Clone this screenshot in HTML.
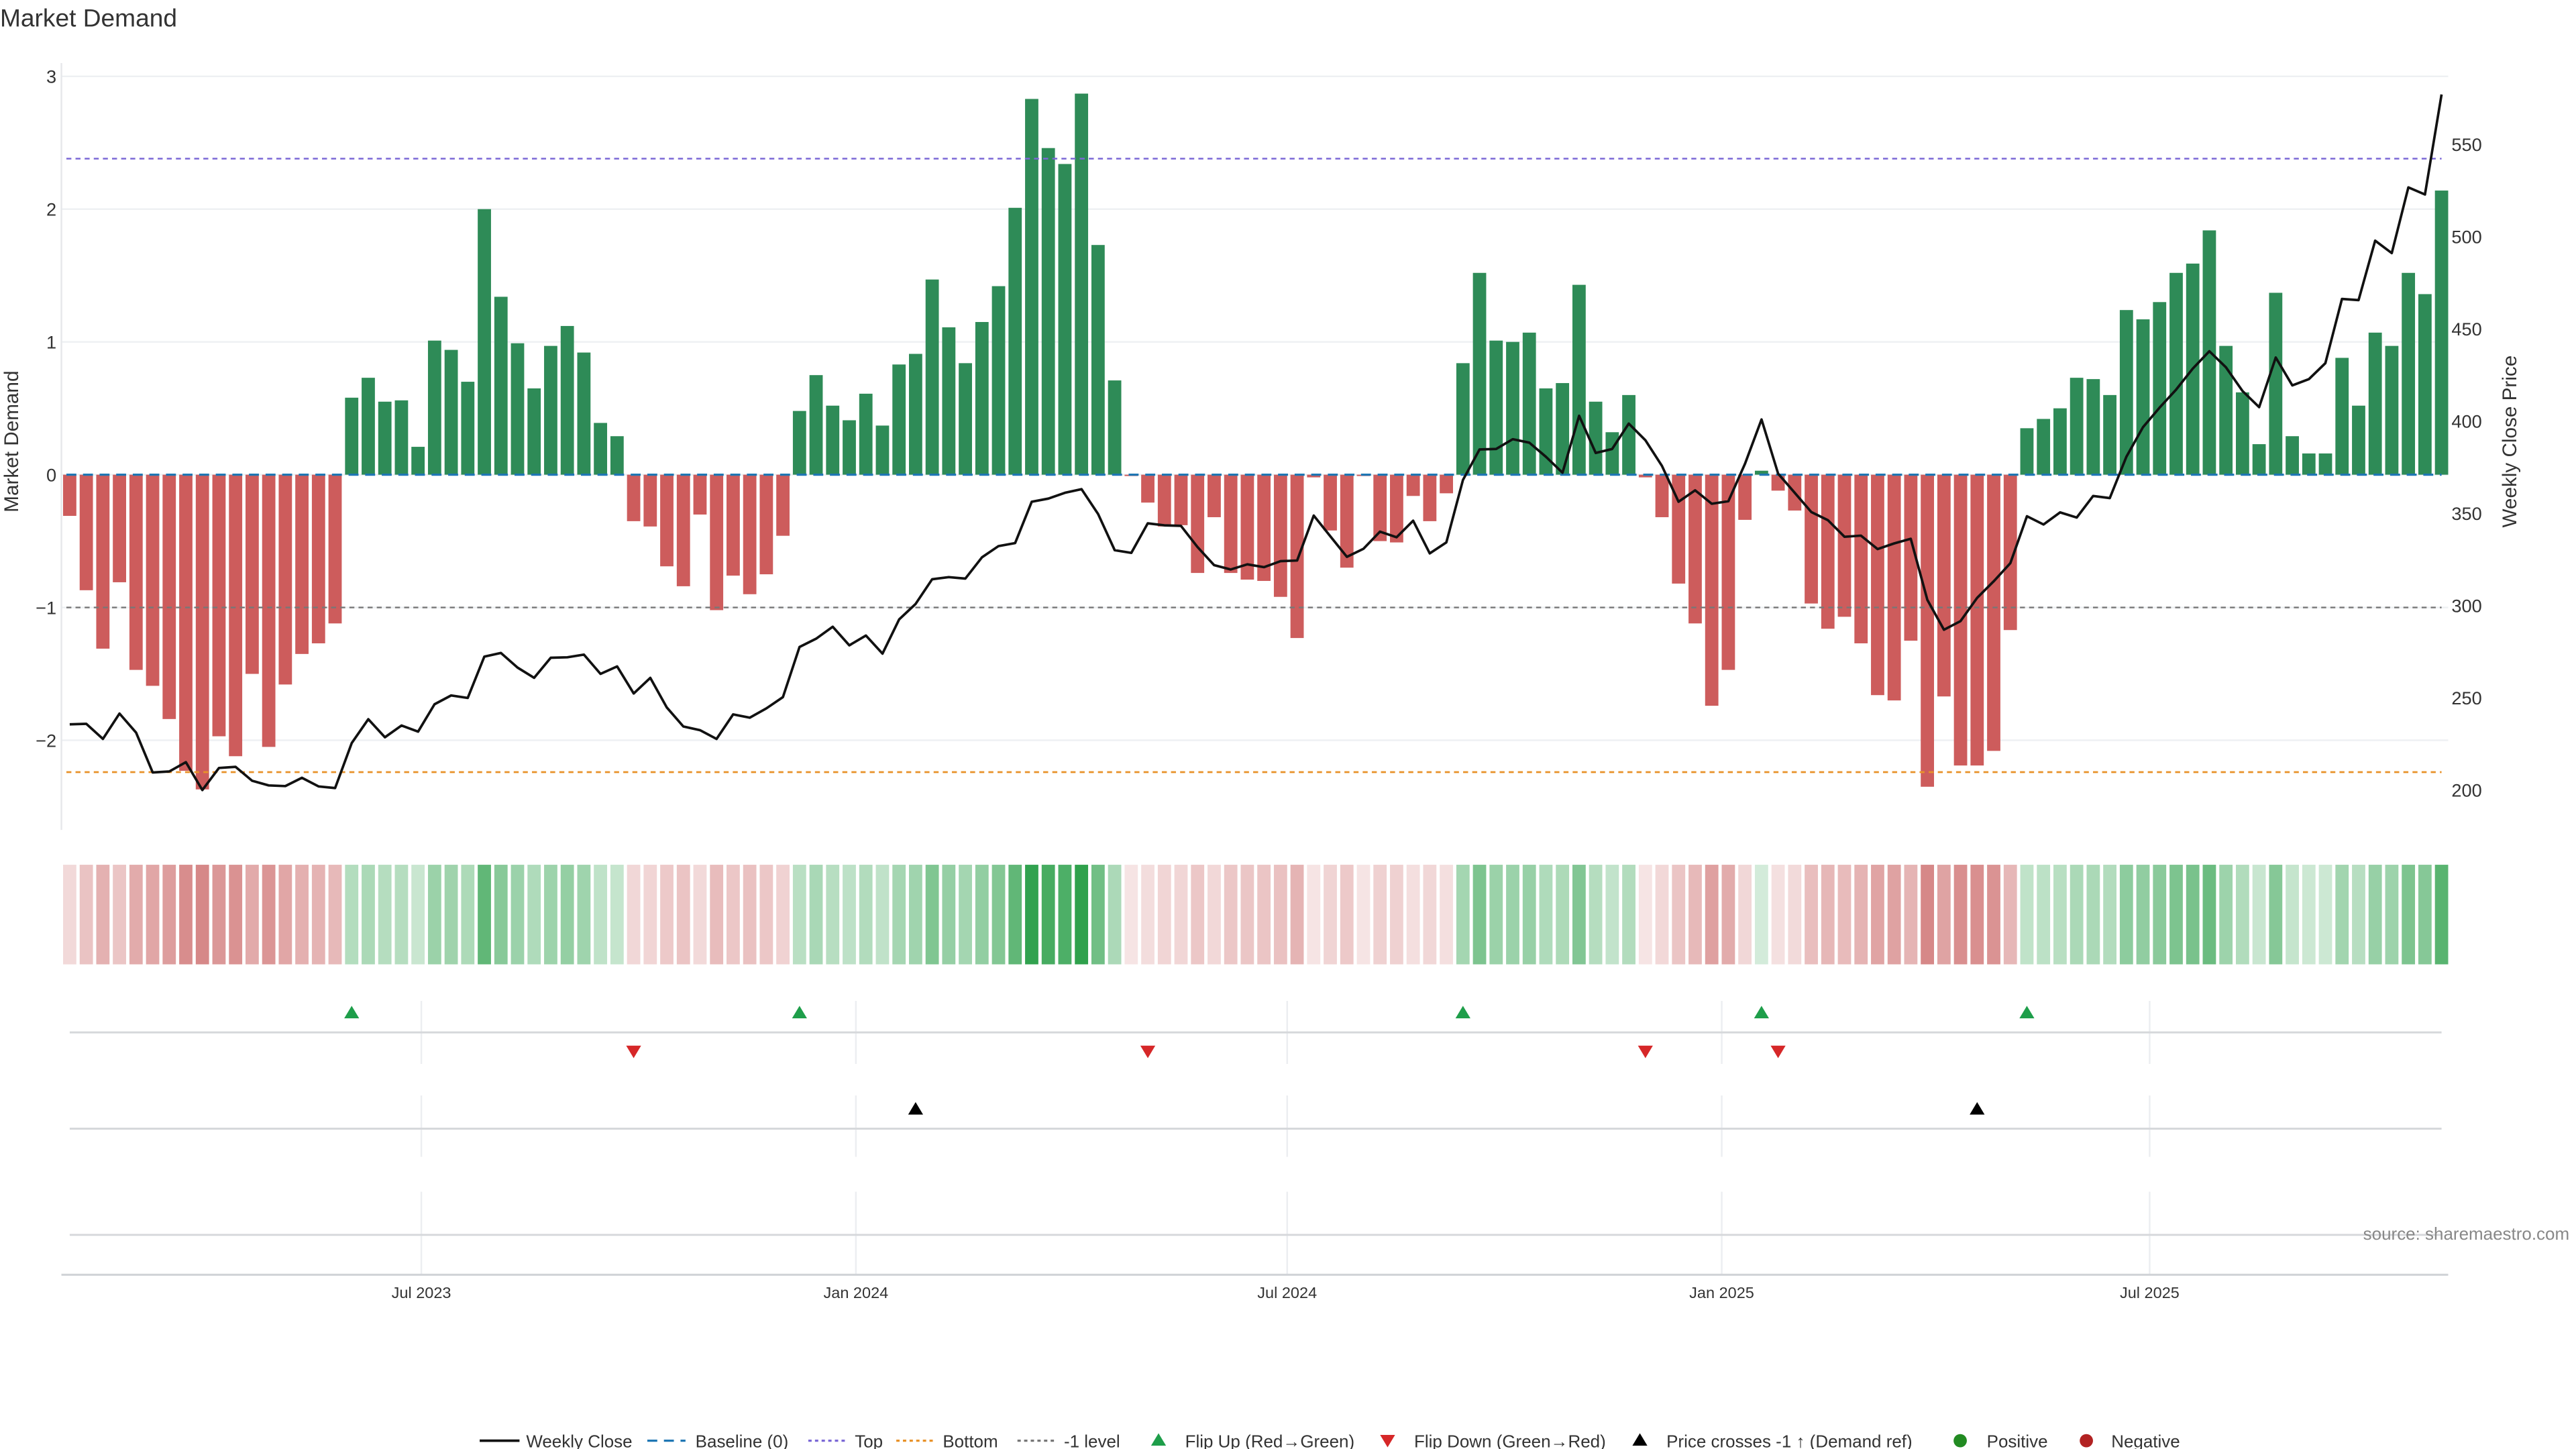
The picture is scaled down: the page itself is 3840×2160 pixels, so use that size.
<!DOCTYPE html>
<html><head><meta charset="utf-8"><title>Market Demand</title>
<style>
html,body{margin:0;padding:0;background:#fff;}
svg{display:block;font-family:"Liberation Sans","DejaVu Sans",sans-serif;}
</style></head>
<body>
<svg id="chart" width="3840" height="2160" viewBox="0 0 1552 873" xmlns="http://www.w3.org/2000/svg">
<rect width="1552" height="873" fill="#fff"/>
<text x="0" y="16" font-size="15" fill="#333">Market Demand</text>
<g id="grid"></g>
<g id="bars"></g>
<g id="refs"></g>
<g id="price"></g>
<g id="heat"></g>
<g id="signals"></g>
<g id="axes"></g>
<g id="legend"></g>
</svg>
<script>
const demand = [-0.31,-0.87,-1.31,-0.81,-1.47,-1.59,-1.84,-2.23,-2.37,-1.97,-2.12,-1.50,-2.05,-1.58,-1.35,-1.27,-1.12,
0.58,0.73,0.55,0.56,0.21,1.01,0.94,0.70,2.00,1.34,0.99,0.65,0.97,1.12,0.92,0.39,0.29,
-0.35,-0.39,-0.69,-0.84,-0.30,-1.02,-0.76,-0.90,-0.75,-0.46,
0.48,0.75,0.52,0.41,0.61,0.37,0.83,0.91,1.47,1.11,0.84,1.15,1.42,2.01,2.83,2.46,2.34,2.87,1.73,0.71,
-0.01,-0.21,-0.39,-0.38,-0.74,-0.32,-0.74,-0.79,-0.80,-0.92,-1.23,-0.02,-0.42,-0.70,-0.01,-0.50,-0.51,-0.16,-0.35,-0.14,
0.84,1.52,1.01,1.00,1.07,0.65,0.69,1.43,0.55,0.32,0.60,
-0.02,-0.32,-0.82,-1.12,-1.74,-1.47,-0.34,0.03,-0.12,-0.27,-0.97,-1.16,-1.07,-1.27,-1.66,-1.70,-1.25,-2.35,-1.67,-2.19,-2.19,-2.08,-1.17,
0.35,0.42,0.50,0.73,0.72,0.60,1.24,1.17,1.30,1.52,1.59,1.84,0.97,0.62,0.23,1.37,0.29,0.16,0.16,0.88,0.52,1.07,0.97,1.52,1.36,2.14];
const closePrice = [235.6,235.9,227.7,241.5,231.1,209.5,210.1,215.1,200.0,212.0,212.6,205.0,202.5,202.2,206.7,202.0,201.1,
225.5,238.4,228.6,235.0,231.7,246.5,251.3,249.9,272.3,274.3,266.4,260.8,271.7,272.0,273.4,263.0,267.0,252.4,260.8,244.8,234.5,232.5,227.7,
241.0,239.2,244.3,250.4,277.6,282.1,288.5,278.5,283.8,274.0,292.5,300.9,314.3,315.4,314.6,326.1,332.3,333.9,356.3,358.0,361.1,363.1,349.6,330.0,328.6,
344.6,343.5,343.2,331.7,321.9,319.6,322.4,320.8,324.1,324.4,348.8,337.6,326.4,330.8,340.1,337.0,346.0,328.3,334.2,
368.1,384.6,384.9,390.2,388.3,380.7,372.0,402.9,382.7,384.9,398.7,389.7,375.7,356.3,362.5,355.2,356.6,376.8,400.9,371.5,361.1,350.7,346.3,337.3,337.9,330.6,333.7,336.2,303.1,286.9,291.6,304.2,313.2,323.0,
348.5,344.0,350.5,347.7,359.4,358.3,380.7,396.7,407.3,417.1,428.4,437.9,429.2,416.3,407.6,434.5,419.4,422.8,431.4,466.2,465.6,497.8,491.1,526.7,522.8,577.1];
const leftTicks = [3,2,1,0,-1,-2];
const rightTicks = [550,500,450,400,350,300,250,200];
const dateLabels = ["Jul 2023","Jan 2024","Jul 2024","Jan 2025","Jul 2025"];
const dateIndex = [21.2,47.4,73.4,99.6,125.4];
const flipUp = [17,44,84,102,118];
const flipDown = [34,65,95,103];
const priceCross = [51,115];
const levelTop = 2.38, levelBottom = -2.24, levelMinus1 = -1;

const NS="http://www.w3.org/2000/svg";
function mk(tag, attrs, parent, text){const e=document.createElementNS(NS,tag);for(const k in attrs)e.setAttribute(k,attrs[k]);if(text!==undefined)e.textContent=text;parent.appendChild(e);return e;}
const X0=37,X1=1475;
const xOf=i=>42+i*(1471-42)/(demand.length-1);
const yL=v=>286-v*80;
const yR=p=>476-(p-200)*389/350;
const g=id=>document.getElementById(id);

// grid
leftTicks.forEach(t=>{const l=mk('line',{x1:X0,x2:X1,y1:yL(t),y2:yL(t),stroke:'#eef0f3','stroke-width':1},g('grid'));

});
// bars
demand.forEach((v,i)=>{const y=Math.min(yL(v),286),h=Math.abs(yL(v)-286);
const r=mk('rect',{x:xOf(i)-4,y:y,width:8,height:Math.max(h,0.3),fill:v>=0?'#2e8b57':'#cd5c5c'},g('bars'));

});
// reference lines
[[0,'#1f77b4','6 4',1.3,'baseline-line'],[levelTop,'#7b68d6','3 2.5',1,'top-line'],[levelMinus1,'#777','3 2.5',1,'minus1-line'],[levelBottom,'#e8922a','3 2.5',1.1,'bottom-line']].forEach(a=>{
const l=mk('line',{x1:40,x2:1471,y1:yL(a[0]),y2:yL(a[0]),stroke:a[1],'stroke-dasharray':a[2],'stroke-width':a[3]},g('refs'));

});
// price line
const pl=mk('polyline',{points:closePrice.map((p,i)=>xOf(i).toFixed(1)+','+yR(p).toFixed(1)).join(' '),fill:'none',stroke:'#111','stroke-width':1.5,'stroke-linejoin':'round'},g('price'));


// heat strip
demand.forEach((v,i)=>{const a=Math.min(Math.abs(v)/2.9,1);
const col=v>=0?`rgba(45,160,75,${0.2+0.8*a})`:`rgba(195,80,80,${0.15+0.65*a})`;
const r=mk('rect',{x:xOf(i)-4,y:521,width:8,height:60,fill:col},g('heat'));

});
// signal panels
const sg=g('signals');
dateIndex.forEach(d=>{const x=xOf(d);[[603,641],[660,697],[718,768]].forEach(s=>{
const l=mk('line',{x1:x,x2:x,y1:s[0],y2:s[1],stroke:'#eceef1','stroke-width':1},sg);

});});
[622,680,744].forEach(y=>{const l=mk('line',{x1:42,x2:1471,y1:y,y2:y,stroke:'#d6d8db','stroke-width':1.2},sg);

});
flipUp.forEach(i=>{const x=xOf(i);const p=mk('polygon',{points:`${x-4.5},613.5 ${x+4.5},613.5 ${x},606`,fill:'#1e9e4a'},sg);

});
flipDown.forEach(i=>{const x=xOf(i);const p=mk('polygon',{points:`${x-4.5},630 ${x+4.5},630 ${x},637.5`,fill:'#d62728'},sg);

});
priceCross.forEach(i=>{const x=xOf(i);const p=mk('polygon',{points:`${x-4.5},671.5 ${x+4.5},671.5 ${x},664`,fill:'#000'},sg);

});
// axes
const ax=g('axes');
let l=mk('line',{x1:X0,x2:X0,y1:38,y2:500,stroke:'#e6e8eb'},ax);


l=mk('line',{x1:X0,x2:X1,y1:768,y2:768,stroke:'#cfd2d6','stroke-width':1.2},ax);


leftTicks.forEach(t=>{const e=mk('text',{x:34,y:yL(t)+4,'font-size':11,fill:'#333','text-anchor':'end'},ax,t<0?'−'+Math.abs(t):String(t));

});
rightTicks.forEach(t=>{const e=mk('text',{x:1477,y:yR(t)+4,'font-size':11,fill:'#333'},ax,String(t));

});
let e=mk('text',{x:0,y:0,'font-size':12,fill:'#333','text-anchor':'middle',transform:'translate(11,266) rotate(-90)'},ax,'Market Demand');


e=mk('text',{x:0,y:0,'font-size':12,fill:'#333','text-anchor':'middle',transform:'translate(1516,266) rotate(-90)'},ax,'Weekly Close Price');


dateLabels.forEach((d,k)=>{const t=mk('text',{x:xOf(dateIndex[k]),y:782,'font-size':9.5,fill:'#333','text-anchor':'middle'},ax,d);

});
e=mk('text',{x:1548,y:747,'font-size':10.5,fill:'#888','text-anchor':'end'},ax,'source: sharemaestro.com');


// legend
const lg=g('legend');const LY=868;
function lt(x,s){const t=mk('text',{x:x,y:LY+4,'font-size':10.5,fill:'#333'},lg,s);return t;}
let it;
it=mk('line',{x1:289,x2:313,y1:LY,y2:LY,stroke:'#111','stroke-width':1.5},lg);


it=lt(317,'Weekly Close');


it=mk('line',{x1:390,x2:413,y1:LY,y2:LY,stroke:'#1f77b4','stroke-dasharray':'6 4','stroke-width':1.3},lg);


it=lt(419,'Baseline (0)');


it=mk('line',{x1:487,x2:510,y1:LY,y2:LY,stroke:'#7b68d6','stroke-dasharray':'2 2','stroke-width':1.3},lg);


it=lt(515,'Top');


it=mk('line',{x1:540,x2:563,y1:LY,y2:LY,stroke:'#e8922a','stroke-dasharray':'2 2','stroke-width':1.3},lg);


it=lt(568,'Bottom');


it=mk('line',{x1:613,x2:636,y1:LY,y2:LY,stroke:'#777','stroke-dasharray':'2 2','stroke-width':1.3},lg);


it=lt(641,'-1 level');


it=mk('polygon',{points:'693.5,871 702.5,871 698,863.5',fill:'#1e9e4a'},lg);


it=lt(714,'Flip Up (Red→Green)');


it=mk('polygon',{points:'831.5,864.5 840.5,864.5 836,872',fill:'#d62728'},lg);


it=lt(852,'Flip Down (Green→Red)');


it=mk('polygon',{points:'983.5,871 992.5,871 988,863.5',fill:'#000'},lg);


it=lt(1004,'Price crosses -1 ↑ (Demand ref)');


it=mk('circle',{cx:1181,cy:LY,r:4,fill:'#228b22'},lg);


it=lt(1197,'Positive');


it=mk('circle',{cx:1257,cy:LY,r:4,fill:'#b22222'},lg);


it=lt(1272,'Negative');


</script>
</body></html>
